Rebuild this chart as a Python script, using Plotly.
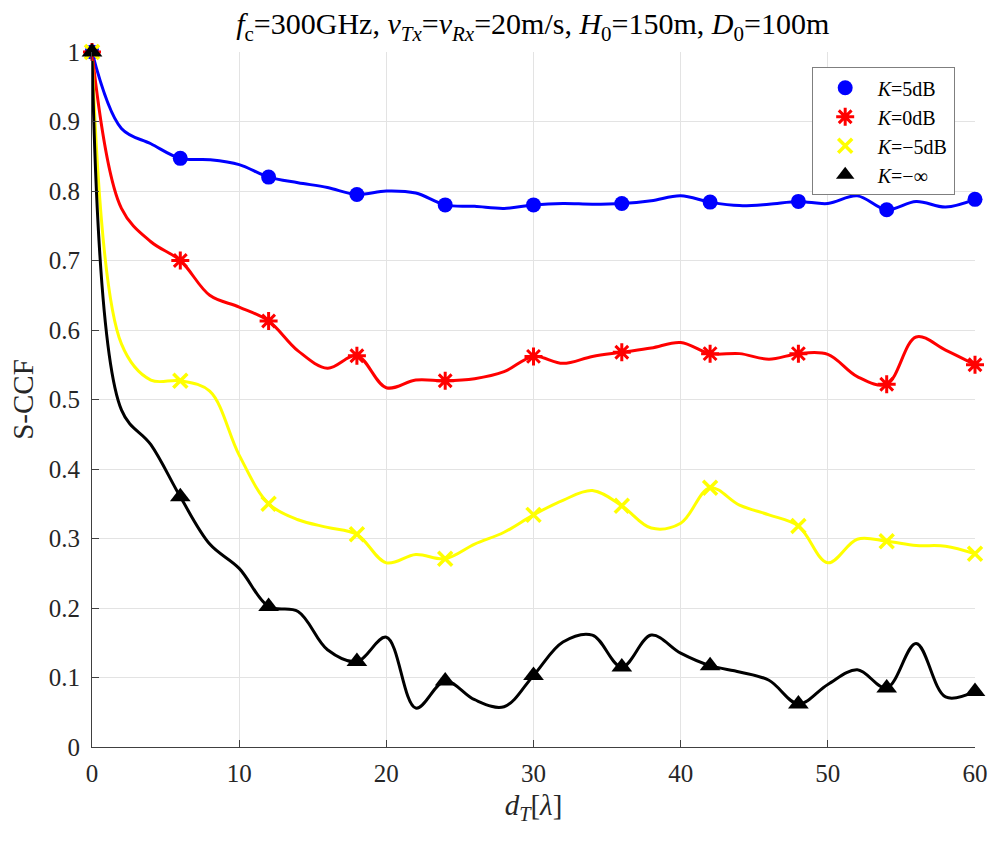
import plotly.graph_objects as go

# ---- data ----
d_T = [0, 2, 4, 6, 8, 10, 12, 14, 16, 18, 20, 22, 24, 26, 28, 30,
       32, 34, 36, 38, 40, 42, 44, 46, 48, 50, 52, 54, 56, 58, 60]

k_5dB = [1.0, 0.89, 0.868, 0.847, 0.845, 0.838, 0.82, 0.812, 0.805, 0.795,
         0.80, 0.797, 0.78, 0.778, 0.775, 0.78, 0.782, 0.781, 0.782, 0.786,
         0.793, 0.784, 0.779, 0.781, 0.785, 0.782, 0.793, 0.773, 0.785, 0.777, 0.788]

k_0dB = [1.0, 0.775, 0.727, 0.70, 0.65, 0.633, 0.613, 0.57, 0.545, 0.563,
         0.517, 0.528, 0.527, 0.53, 0.54, 0.562, 0.552, 0.562, 0.568, 0.574,
         0.582, 0.566, 0.566, 0.558, 0.566, 0.565, 0.533, 0.522, 0.59, 0.571, 0.55]

k_m5dB = [1.0, 0.58, 0.528, 0.527, 0.512, 0.42, 0.35, 0.327, 0.316, 0.306,
          0.265, 0.277, 0.271, 0.292, 0.309, 0.334, 0.355, 0.369, 0.347, 0.315,
          0.322, 0.373, 0.348, 0.334, 0.318, 0.265, 0.299, 0.296, 0.29, 0.289, 0.278]

k_minf = [1.0, 0.485, 0.435, 0.36, 0.292, 0.257, 0.202, 0.195, 0.14, 0.123,
          0.158, 0.056, 0.095, 0.068, 0.058, 0.103, 0.151, 0.161, 0.115, 0.161,
          0.135, 0.117, 0.108, 0.096, 0.062, 0.09, 0.111, 0.085, 0.149, 0.072, 0.08]

series_names = ["<i>K</i>=5dB", "<i>K</i>=0dB", "<i>K</i>=\u22125dB", "<i>K</i>=\u2212\u221e"]
x_ticks = [0, 10, 20, 30, 40, 50, 60]
y_ticks = [0, 0.1, 0.2, 0.3, 0.4, 0.5, 0.6, 0.7, 0.8, 0.9, 1]
y_ticklabels = ["0", "0.1", "0.2", "0.3", "0.4", "0.5", "0.6", "0.7", "0.8", "0.9", "1"]

# ---- styles ----
styles = [
    dict(color="#0000ff", symbol="circle", size=15, lw=0, fill=True),
    dict(color="#ff0000", symbol="asterisk-open", size=15, lw=3, fill=False),
    dict(color="#ffff00", symbol="x-thin-open", size=14, lw=3.5, fill=False),
    dict(color="#000000", symbol="triangle-up", size=18, lw=0, fill=True),
]

FONT = "Liberation Serif, Times New Roman, serif"
fig = go.Figure()
all_series = [k_5dB, k_0dB, k_m5dB, k_minf]

for ys, st in zip(all_series, styles):
    fig.add_trace(go.Scatter(
        x=d_T, y=ys, mode="lines",
        line=dict(color=st["color"], width=3, shape="spline", smoothing=1.0),
        showlegend=False, hoverinfo="skip", cliponaxis=False))

for ys, st, nm in zip(all_series, styles, series_names):
    mk = dict(color=st["color"], symbol=st["symbol"], size=st["size"])
    if not st["fill"]:
        mk["line"] = dict(color=st["color"], width=st["lw"])
    else:
        mk["line"] = dict(width=0)
    fig.add_trace(go.Scatter(
        x=d_T[::3], y=ys[::3], mode="markers", name=nm, marker=mk,
        cliponaxis=False))

axis_common = dict(
    showgrid=True, gridcolor="#e3e3e3", gridwidth=1,
    showline=True, linecolor="#404040", linewidth=1,
    ticks="inside", ticklen=7, tickcolor="#404040",
    tickfont=dict(family=FONT, size=25, color="#262626"),
    zeroline=False, mirror=False, automargin=False,
)

fig.update_layout(
    width=992, height=843,
    paper_bgcolor="white", plot_bgcolor="white",
    margin=dict(l=92, r=17, t=52, b=96),
    font=dict(family=FONT, color="#262626"),
    title=dict(
        text="<i>f</i><sub>c</sub>=300GHz, <i>v</i><sub><i>Tx</i></sub>=<i>v</i><sub><i>Rx</i></sub>=20m/s, "
             "<i>H</i><sub>0</sub>=150m, <i>D</i><sub>0</sub>=100m",
        x=0.537, xanchor="center", y=0.984, yanchor="top",
        font=dict(family=FONT, size=30, color="#000000")),
    xaxis=dict(range=[0, 60], tickvals=x_ticks, ticklabelstandoff=4,
               title=dict(text="<i>d</i><sub><i>T</i></sub>[<i>\u03bb</i>]",
                          font=dict(family=FONT, size=29, color="#262626"), standoff=8),
               **axis_common),
    yaxis=dict(range=[0, 1], tickvals=y_ticks, ticktext=y_ticklabels, ticklabelstandoff=6,
               title=dict(text="S-CCF", font=dict(family=FONT, size=29, color="#262626"), standoff=6),
               **axis_common),
    legend=dict(x=0.977, y=0.978, xanchor="right", yanchor="top",
                bgcolor="white", bordercolor="#7f7f7f", borderwidth=1,
                font=dict(family=FONT, size=20, color="#000000"),
                tracegroupgap=0, itemwidth=55),
)

fig.write_html("out.html")
